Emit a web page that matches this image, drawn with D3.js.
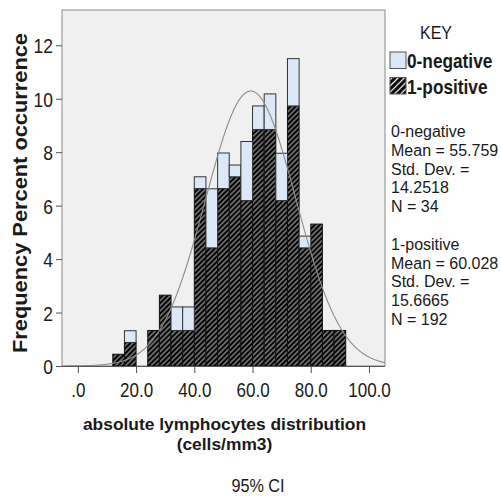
<!DOCTYPE html>
<html><head><meta charset="utf-8">
<script src="https://cdn.jsdelivr.net/npm/d3@7"></script>
<style>body{margin:0;background:#fff}svg{display:block}text{font-family:"Liberation Sans",Arial,sans-serif;fill:#1a1a1a}</style>
</head><body><svg id="c" width="501" height="496"></svg>
<script>
// ---- data ----
const binStarts = [12,16,20,24,28,32,36,40,44,48,52,56,60,64,68,72,76,80,84,88];
const binWidth = 4;
// frequency percent (stacked: 1-positive at bottom, 0-negative on top)
const positive = [0.44,0.88,0,1.33,2.65,1.33,1.33,6.64,4.42,6.64,7.08,6.19,8.85,8.85,6.19,9.73,4.42,5.31,1.33,1.33];
const negative = [0,0.44,0,0,0,0.88,0.88,0.44,2.21,1.33,0.44,2.21,0.88,1.33,1.77,1.77,0.44,0,0,0];
const yTicks = [0,2,4,6,8,10,12];
const xTicks = [0,20,40,60,80,100];
const xTickLabels = [".0","20.0","40.0","60.0","80.0","100.0"];
const seriesNames = ["0-negative","1-positive"];
const stats0 = ["0-negative","Mean = 55.759","Std. Dev. =","14.2518","N = 34"];
const stats1 = ["1-positive","Mean = 60.028","Std. Dev. =","15.6665","N = 192"];
const curveMean = 59.39, curveSD = 15.51;
const yTitle = "Frequency Percent occurrence";
const xTitle = ["absolute lymphocytes distribution","(cells/mm3)"];
const footer = "95% CI";

// ---- layout ----
const svg = d3.select("#c");
const L = 62, R = 385, T = 10, B = 366;
const x = d3.scaleLinear().domain([-5.45, 105.5]).range([L, R]);
const y = d3.scaleLinear().domain([0, 13.32]).range([B, T]);
const blue = "#dce8f7";

function condense(sel, f){
  sel.each(function(){
    const w = this.getComputedTextLength();
    d3.select(this).attr("textLength", w*f).attr("lengthAdjust","spacingAndGlyphs");
  });
}

const defs = svg.append("defs");
function hatch(id, s, sw){
  const p = defs.append("pattern").attr("id", id).attr("patternUnits","userSpaceOnUse")
    .attr("width", s).attr("height", s).attr("patternTransform","rotate(45)");
  p.append("rect").attr("width", s).attr("height", s).attr("fill","#000");
  p.append("line").attr("x1", s/2).attr("x2", s/2).attr("y1", 0).attr("y2", s)
    .attr("stroke","#fff").attr("stroke-width", sw);
}
hatch("hatch", 3.6, 0.75);
hatch("hatchL", 4.4, 1.3);
defs.append("clipPath").attr("id","clip").append("rect")
  .attr("x", L).attr("y", T).attr("width", R-L).attr("height", B-T);

// plot background
svg.append("rect").attr("x", L).attr("y", T).attr("width", R-L).attr("height", B-T)
  .attr("fill","#f0f0f0").attr("stroke","#8a8a8a").attr("stroke-width",1);

// bars
const bins = binStarts.map((s,i)=>({s, pos: positive[i], neg: negative[i]}));
const g = svg.append("g");
g.selectAll("rect.pos").data(bins.filter(d=>d.pos>0)).join("rect").attr("class","pos")
  .attr("x", d=>x(d.s)).attr("width", d=>x(d.s+binWidth)-x(d.s))
  .attr("y", d=>y(d.pos)).attr("height", d=>y(0)-y(d.pos))
  .attr("fill","url(#hatch)").attr("stroke","#111").attr("stroke-width",1);
g.selectAll("rect.neg").data(bins.filter(d=>d.neg>0)).join("rect").attr("class","neg")
  .attr("x", d=>x(d.s)).attr("width", d=>x(d.s+binWidth)-x(d.s))
  .attr("y", d=>y(d.pos+d.neg)).attr("height", d=>y(d.pos)-y(d.pos+d.neg))
  .attr("fill", blue).attr("stroke","#333").attr("stroke-width",1);

// normal curve
const pdf = v => 100*binWidth*Math.exp(-0.5*((v-curveMean)/curveSD)**2)/(curveSD*Math.sqrt(2*Math.PI));
const xs = d3.range(x.domain()[0], x.domain()[1]+0.25, 0.25);
svg.append("path").datum(xs).attr("clip-path","url(#clip)")
  .attr("d", d3.line().x(v=>x(v)).y(v=>y(pdf(v))))
  .attr("fill","none").attr("stroke","#8c8c8c").attr("stroke-width",1.1);

// axes
const ya = svg.append("g").attr("transform",`translate(${L},0)`)
  .call(d3.axisLeft(y).tickValues(yTicks).tickSize(6).tickPadding(3).tickFormat(d3.format("d")));
ya.select(".domain").remove();
ya.selectAll("line").attr("stroke","#555");
ya.selectAll("text").attr("font-size",21).attr("dy","0.36em").style("font-family","Liberation Sans").attr("fill","#1a1a1a");
condense(ya.selectAll("text"), 0.83);

const xa = svg.append("g").attr("transform",`translate(0,${B})`)
  .call(d3.axisBottom(x).tickValues(xTicks).tickSize(7).tickFormat((d,i)=>xTickLabels[i]));
xa.select(".domain").attr("stroke","#555").attr("d",`M${L-6},0.5H${R}`);
xa.selectAll("line").attr("stroke","#555");
xa.selectAll("text").attr("font-size",20.5).attr("y",30.7).attr("dy",0).style("font-family","Liberation Sans").attr("fill","#1a1a1a");
condense(xa.selectAll("text"), 0.83);

// titles
svg.append("text").attr("transform","translate(27,193) rotate(-90)")
  .attr("text-anchor","middle").attr("font-size",20).attr("font-weight","bold").text(yTitle)
  .attr("textLength",320).attr("lengthAdjust","spacingAndGlyphs");
xTitle.forEach((t,i)=>{
  svg.append("text").attr("x",224.5).attr("y",430+i*19.5).attr("text-anchor","middle")
    .attr("font-size",17.4).attr("font-weight","bold").text(t);
});
svg.append("text").attr("transform","translate(258,491.5) scale(0.9,1)").attr("text-anchor","middle")
  .attr("font-size",18).text(footer);

// legend
svg.append("text").attr("transform","translate(436,39) scale(0.89,1)").attr("text-anchor","middle")
  .attr("font-size",18).text("KEY");
const legItems = [{name:seriesNames[0], fill:blue, y:52},{name:seriesNames[1], fill:"url(#hatchL)", y:77.5}];
legItems.forEach(d=>{
  svg.append("rect").attr("x",390).attr("y",d.y).attr("width",16).attr("height",16.5)
    .attr("fill",d.fill).attr("stroke","#555").attr("stroke-width",1);
  svg.append("text").attr("transform",`translate(407,${d.y+16}) scale(0.885,1)`)
    .attr("font-size",19.5).attr("font-weight","bold").text(d.name);
});
[stats0, stats1].forEach((lines,gi)=>{
  lines.forEach((t,i)=>{
    svg.append("text").attr("x",391).attr("y",137+(gi*6+i)*18.8).attr("font-size",16).text(t);
  });
});
</script></body></html>
